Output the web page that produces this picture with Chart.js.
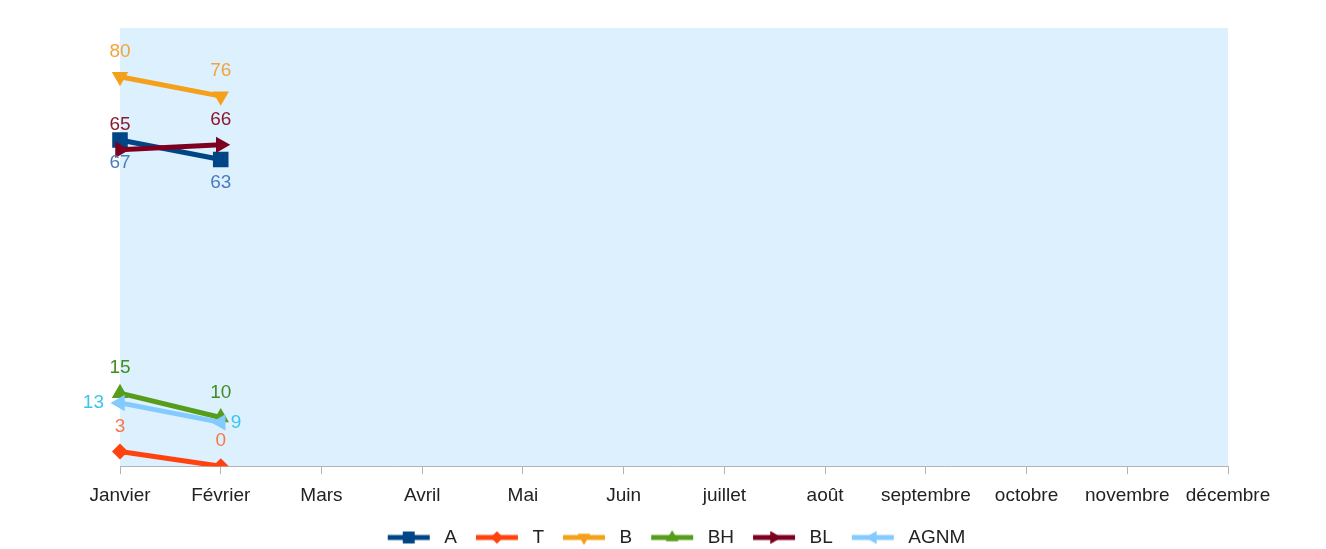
<!DOCTYPE html>
<html>
<head>
<meta charset="utf-8">
<script src="https://cdn.jsdelivr.net/npm/chart.js@4.4.0/dist/chart.umd.min.js"></script>
<style>
  html, body { margin: 0; padding: 0; background: #fff; }
  #wrap { width: 1326px; height: 549px; }
</style>
</head>
<body>
<div id="wrap"><canvas id="chart"></canvas></div>
<script>
const months = ['Janvier', 'Février', 'Mars', 'Avril', 'Mai', 'Juin', 'juillet', 'août', 'septembre', 'octobre', 'novembre', 'décembre'];
const seriesNames = ['A', 'T', 'B', 'BH', 'BL', 'AGNM'];
const valA = [67, 63];
const valT = [3, 0];
const valB = [80, 76];
const valBH = [15, 10];
const valBL = [65, 66];
const valAGNM = [13, 9];

const lineColors = ['#004586', '#ff420e', '#f5a01a', '#579d1c', '#7e0021', '#83caff'];
const labelColors = ['#4a7cc0', '#f47a4a', '#f2a43a', '#3f8f1e', '#8b1a2c', '#3cc4f0'];
const markers = ['rect', 'rectRot', 'triangle', 'triangle', 'triangle', 'triangle'];
const rotations = [0, 0, 180, 0, 90, -90];
const radii = [11, 8, 9.5, 9.5, 9.5, 9.5];
const labelPos = [['below', 'below'], ['above', 'above'], ['above', 'above'], ['above', 'above'], ['above', 'above'], ['left', 'right']];

const allValues = [valA, valT, valB, valBH, valBL, valAGNM];
const FONT = '"Liberation Sans", Arial, sans-serif';

function legendIcon(i){
    let c = document.createElement('canvas');
    c.width = 52; c.height = 18;
    let x = c.getContext('2d');
    x.strokeStyle = lineColors[i];
    x.lineWidth = 5;
    x.beginPath(); x.moveTo(5, 9); x.lineTo(47, 9); x.stroke();
    x.fillStyle = lineColors[i];
    Chart.helpers.drawPoint(x, {pointStyle: markers[i], radius: radii[i] * 0.75, rotation: rotations[i], borderWidth: 0}, 26, 9);
    x.fill();
    return c;
}

const dataLabels = {
    id: 'dataLabels',
    afterDatasetsDraw(chart){
        const ctx = chart.ctx;
        ctx.save();
        ctx.font = '19px ' + FONT;
        chart.data.datasets.forEach((ds, i) => {
            const meta = chart.getDatasetMeta(i);
            meta.data.forEach((pt, j) => {
                const v = ds.data[j];
                if (v === null || v === undefined) return;
                const pos = labelPos[i][j];
                ctx.fillStyle = labelColors[i];
                let x = pt.x, y = pt.y;
                ctx.textBaseline = 'middle';
                if (pos === 'above') { ctx.textAlign = 'center'; y -= 25; }
                else if (pos === 'below') { ctx.textAlign = 'center'; y += 23; }
                else if (pos === 'left') { ctx.textAlign = 'right'; x -= 16; }
                else { ctx.textAlign = 'left'; x += 10; }
                ctx.fillText(String(v), x, y);
            });
        });
        ctx.restore();
    }
};

const areaBg = {
    id: 'areaBg',
    beforeDraw(chart){
        const a = chart.chartArea;
        chart.ctx.save();
        chart.ctx.fillStyle = '#ddf0fe';
        chart.ctx.fillRect(a.left, a.top, a.right - a.left, a.bottom - a.top);
        chart.ctx.restore();
    }
};

const icons = seriesNames.map((n, i) => legendIcon(i));

const datasets = seriesNames.map((name, i) => ({
    label: name,
    data: allValues[i],
    borderColor: lineColors[i],
    backgroundColor: lineColors[i],
    borderWidth: 5,
    pointStyle: markers[i],
    rotation: rotations[i],
    pointRadius: radii[i],
    pointHoverRadius: radii[i],
    pointBorderWidth: 0,
    tension: 0,
    order: 6 - i
}));

new Chart(document.getElementById('chart').getContext('2d'), {
    type: 'line',
    data: { labels: months, datasets: datasets },
    options: {
        responsive: true,
        maintainAspectRatio: false,
        animation: false,
        layout: { padding: { left: 120, right: 98, top: 28, bottom: -8 } },
        scales: {
            x: {
                offset: false,
                grid: { drawOnChartArea: false, drawTicks: true, tickLength: 8, color: '#b3b3b3' },
                border: { color: '#b3b3b3', width: 1 },
                ticks: { color: '#222', font: { family: FONT, size: 19 }, maxRotation: 0, autoSkip: false, padding: 10 },
                afterFit(scale){ scale.height -= 3; }
            },
            y: {
                display: false,
                min: 0,
                max: 90
            }
        },
        plugins: {
            legend: {
                position: 'bottom',
                labels: {
                    usePointStyle: true,
                    pointStyleWidth: 52,
                    color: '#222',
                    font: { family: FONT, size: 19 },
                    padding: 14,
                    generateLabels(chart){
                        const items = Chart.defaults.plugins.legend.labels.generateLabels(chart);
                        items.sort((a, b) => a.datasetIndex - b.datasetIndex);
                        items.forEach(it => { it.pointStyle = icons[it.datasetIndex]; it.rotation = 0; });
                        return items;
                    }
                }
            },
            tooltip: { enabled: false }
        }
    },
    plugins: [areaBg, dataLabels]
});
</script>
</body>
</html>
